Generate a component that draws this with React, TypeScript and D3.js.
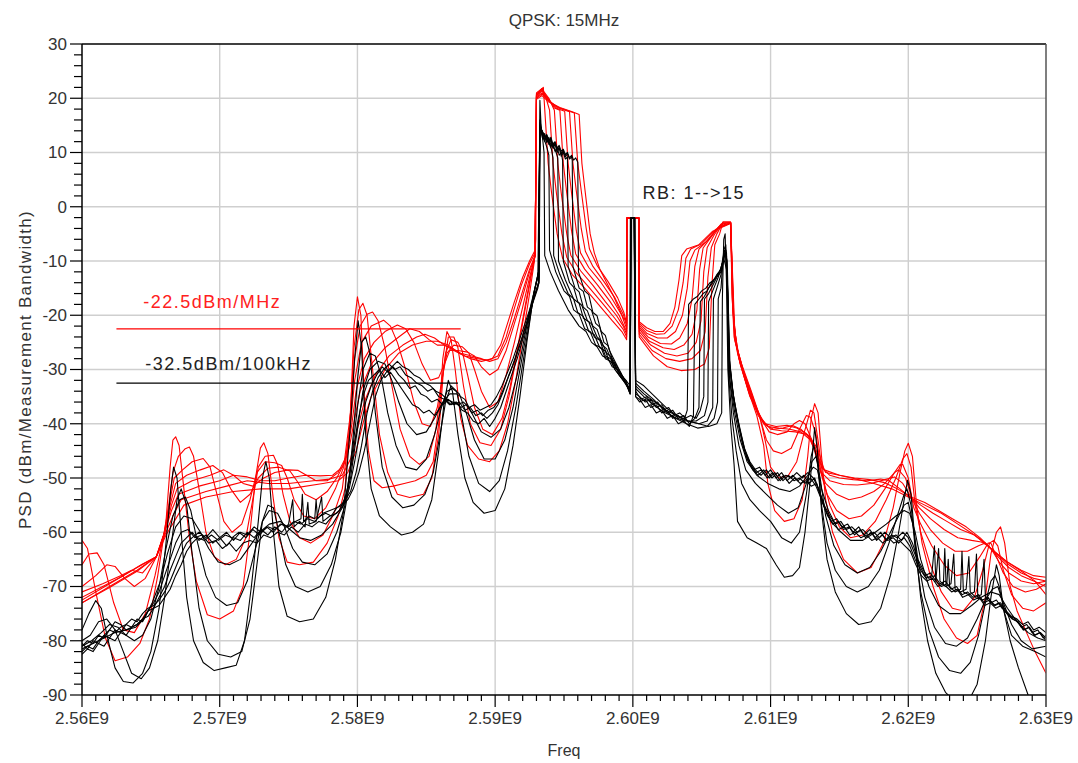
import React from "react";
import * as d3 from "d3";

type P = [number, number];

// frequencies in MHz, levels in dBm
const X_TICKS_MHZ = [2560, 2570, 2580, 2590, 2600, 2610, 2620, 2630];
const X_TICK_LABELS = ["2.56E9", "2.57E9", "2.58E9", "2.59E9", "2.60E9", "2.61E9", "2.62E9", "2.63E9"];
const Y_TICKS = [30, 20, 10, 0, -10, -20, -30, -40, -50, -60, -70, -80, -90];

const RED_0: P[] = [[2560,-61.5],[2560.4,-63],[2561,-71],[2561.7,-79.5],[2562.4,-83.7],[2563.3,-83],[2564.2,-80.5],[2564.9,-76],[2565.5,-68],[2566.1,-58],[2566.4,-48],
[2566.6,-43],[2566.8,-42.4],[2567.05,-44],[2567.4,-52],[2567.8,-61],[2568.3,-69],[2569.1,-75.2],[2570,-76],[2571,-74.5],[2571.7,-70],[2572.2,-60],[2572.6,-50],[2572.95,-44.5],
[2573.2,-43.5],[2573.5,-45.5],[2573.9,-54],[2574.3,-61],[2574.9,-65.5],[2575.8,-66],[2576.8,-65.5],[2577.8,-62],[2578.6,-57],[2579.1,-52],[2579.5,-38],[2579.75,-22],
[2580,-16.6],[2580.25,-20],[2580.5,-35],[2580.8,-45],[2581.2,-50.5],[2581.8,-51.8],[2582.6,-51.5],[2583.4,-51],[2584.2,-50.5],[2585,-49.5],[2585.5,-47],[2585.9,-40],[2586.2,-28],
[2586.5,-23],[2586.8,-24.5],[2587.1,-30],[2587.5,-39],[2588,-44],[2588.8,-46.5],[2589.6,-47],[2590.3,-45],[2590.9,-40],[2591.5,-32],[2592,-24],[2592.5,-16],[2592.85,-10],
[2592.95,-6],[2593,21],[2593.5,22],[2593.6,18],[2593.85,8],[2594.1,2.5],[2594.5,-5],[2594.9,-9.5],[2595.6,-12.5],[2596.5,-15],[2597.5,-18],[2598.5,-21],[2599.2,-23],[2599.55,-24.5],
[2599.56,-2.1],[2600.45,-2.1],[2600.46,-24],
[2601.5,-27.5],[2602.5,-29.5],[2603.5,-30.2],[2604.5,-30],[2605.2,-29],[2605.55,-26],[2605.75,-14],[2605.95,-7],[2606.3,-5],[2606.55,-2.8],[2607.1,-2.8],[2607.2,-16],[2607.35,-24],
[2607.8,-29],[2608.4,-34],[2609,-38.5],[2609.5,-44],[2609.8,-51],[2610.3,-56],[2611,-58],[2611.7,-57.5],[2612.3,-54],[2612.7,-46],[2612.95,-39],
[2613.2,-36.3],[2613.45,-38],[2613.7,-46],[2614,-54],[2614.5,-60],[2615.3,-65],[2616.3,-67.5],[2617.3,-66.5],[2618.2,-62],[2618.9,-55.5],[2619.4,-49],[2619.75,-45],
[2620,-43.6],[2620.3,-46],[2620.6,-55],[2621,-62],[2621.8,-70],[2622.6,-76],[2623.5,-79.5],[2624.3,-80.5],[2625,-79],[2625.6,-72],[2626,-64],[2626.4,-60],
[2626.7,-59],[2627,-62],[2627.4,-70],[2627.9,-74.5],[2628.5,-78],[2629.2,-82],[2630,-86]];

const RED_1: P[] = [[2560,-66],[2560.5,-64],[2561.1,-63.8],[2561.6,-66],[2562.3,-73],[2563,-78],[2563.8,-78.5],[2564.6,-75],[2565.3,-68],[2565.9,-61],[2566.3,-55],[2566.6,-49],
[2567,-46],[2567.5,-44.6],[2567.8,-44.3],[2568.1,-46],[2568.5,-52],[2569,-60],[2569.6,-64.5],[2570.4,-66],[2571.2,-65],[2571.9,-61],[2572.4,-54],[2572.8,-48],
[2573.3,-46],[2573.9,-45.8],[2574.2,-47.5],[2574.6,-53],[2575.1,-58],[2575.8,-61],[2576.6,-62],[2577.5,-60.5],[2578.3,-56.5],[2578.9,-52],[2579.4,-42],[2579.75,-26],
[2580.1,-19],[2580.4,-17.8],[2580.7,-20],[2581.1,-30],[2581.6,-42],[2582.2,-49],[2582.9,-53],[2583.8,-53.6],[2584.8,-53],[2585.4,-50],[2585.9,-42],[2586.25,-30],
[2586.6,-24],[2587,-24],[2587.3,-26],[2587.7,-33],[2588.2,-40],[2588.9,-43.5],[2589.7,-44],[2590.4,-41],[2591,-35],[2591.6,-27],[2592.1,-20],[2592.6,-13],[2592.9,-9],
[2593,20.5],[2593.4,21.8],[2593.7,20],[2593.95,17.8],[2594.2,8],[2594.45,2.5],[2594.85,-5],[2595.2,-9.3],[2595.9,-12.2],[2596.8,-14.8],[2597.8,-17.8],[2598.7,-20.6],[2599.3,-22.6],[2599.55,-24],
[2599.56,-2.1],[2600.45,-2.1],[2600.46,-23.5],
[2601.4,-26.5],[2602.4,-28],[2603.4,-28.5],[2604.3,-28],[2604.9,-26.5],[2605.25,-23],[2605.45,-13],[2605.7,-7.5],[2606.1,-5],[2606.55,-2.8],[2607.1,-2.8],[2607.22,-17],[2607.4,-24.5],
[2607.9,-29],[2608.6,-34],[2609.2,-38.5],[2609.6,-43],[2610,-48],[2610.6,-50],[2611.3,-49.5],[2611.9,-47],[2612.4,-42],[2612.9,-37.5],
[2613.15,-38],[2613.5,-44],[2613.8,-50],[2614.3,-55],[2615,-59],[2615.8,-61],[2616.7,-60.5],[2617.6,-58],[2618.4,-54],[2619.1,-50],[2619.6,-46.5],
[2619.9,-45.5],[2620.2,-48],[2620.5,-55],[2620.9,-60],[2621.6,-66],[2622.4,-71],[2623.2,-74],[2624,-74.5],[2624.8,-72],[2625.4,-67],[2625.9,-62],
[2626.2,-61.5],[2626.5,-62.5],[2626.9,-67],[2627.5,-71.5],[2628.3,-74],[2629.1,-74.5],[2630,-73]];

const RED_2: P[] = [[2560,-70],[2561,-68],[2561.8,-66],[2562.4,-66.3],[2563.1,-68.5],[2563.8,-70],[2564.6,-68.5],[2565.4,-64.5],[2566,-60],[2566.4,-54],[2566.7,-50],
[2567.3,-48.5],[2568,-47],[2568.8,-46.4],[2569.3,-48],[2569.8,-53],[2570.3,-58],[2570.9,-60],[2571.6,-58.5],[2572.2,-54],[2572.7,-49],
[2573.3,-47],[2574,-47.2],[2574.5,-47.7],[2574.9,-50],[2575.4,-54],[2576.1,-57],[2576.9,-57.5],[2577.7,-55.5],[2578.4,-52],[2579,-48],[2579.5,-38],[2579.8,-28],
[2580.2,-22],[2580.7,-19.8],[2581.1,-19.4],[2581.5,-21],[2582,-26],[2582.5,-33],[2583.1,-41],[2583.8,-46],[2584.5,-47.5],[2585.2,-46],[2585.7,-41],[2586.1,-33],[2586.4,-27],
[2586.8,-24.5],[2587.3,-25],[2587.6,-26.5],[2588,-31],[2588.5,-37],[2589.1,-41],[2589.8,-42],[2590.5,-39],[2591.1,-33],[2591.7,-25],[2592.2,-18],[2592.6,-12.5],[2592.9,-9],
[2593,20.8],[2593.4,21.7],[2593.9,20],[2594.3,17.8],[2594.55,8],[2594.8,2.5],[2595.2,-5],[2595.5,-9],[2596.2,-11.8],[2597.1,-14.5],[2598,-17.5],[2598.8,-20],[2599.3,-22],[2599.55,-23.5],
[2599.56,-2.1],[2600.45,-2.1],[2600.46,-23],
[2601.3,-25.5],[2602.3,-27],[2603.2,-27.5],[2604,-27],[2604.6,-25],[2604.95,-21],[2605.15,-12],[2605.4,-7.5],[2605.9,-5.2],[2606.5,-3],[2607.1,-2.9],[2607.25,-18],[2607.45,-25],
[2608,-30],[2608.7,-35],[2609.3,-39.5],[2609.7,-43],[2610.2,-45],[2610.8,-45.5],[2611.5,-44.5],[2612.1,-41],[2612.6,-38.5],
[2612.9,-38.8],[2613.3,-42],[2613.65,-49],[2614.1,-53],[2614.8,-56],[2615.7,-57.5],[2616.6,-57],[2617.5,-55],[2618.3,-52],[2619,-49],[2619.4,-47.5],
[2619.6,-47.5],[2620,-50],[2620.4,-55.5],[2620.9,-58.5],[2621.7,-62.5],[2622.6,-66],[2623.5,-68],[2624.4,-67.5],[2625.2,-64.5],[2625.8,-62],
[2626,-62],[2626.4,-64.5],[2626.9,-67.5],[2627.6,-70],[2628.5,-71],[2629.3,-70.5],[2630,-69.5]];

const RED_3: P[] = [[2560,-71],[2561.5,-69.5],[2562.8,-68],[2563.6,-67],[2564.4,-67.5],[2565.4,-64.5],[2566,-60],[2566.4,-55],[2566.8,-51],
[2567.6,-49.5],[2568.6,-48.5],[2569.5,-47.7],[2570.2,-49],[2570.8,-52],[2571.5,-54.5],[2572.2,-53],[2572.8,-50],
[2573.5,-48.2],[2574.3,-48],[2575.1,-48.7],[2575.6,-50.5],[2576.2,-53],[2577,-54],[2577.8,-52.5],[2578.5,-50],[2579.1,-47],[2579.5,-40],[2579.8,-32],
[2580.3,-25],[2581,-22],[2581.9,-20.9],[2582.4,-22],[2582.9,-25],[2583.5,-30],[2584.1,-36],[2584.7,-40],[2585.3,-40.5],[2585.8,-37],[2586.2,-31],[2586.5,-27],
[2587,-25.5],[2587.6,-25.8],[2588.1,-27],[2588.5,-30],[2589,-34],[2589.6,-37],[2590.2,-36],[2590.8,-31],[2591.4,-25],[2592,-18.5],[2592.5,-13],[2592.9,-9],
[2593,20.6],[2593.4,21.5],[2593.9,19.8],[2594.3,18.2],[2594.7,17.8],[2594.95,8],[2595.2,2.5],[2595.55,-4.5],[2595.85,-8.7],[2596.5,-11.5],[2597.4,-14.3],[2598.3,-17.3],[2599,-20],[2599.55,-23],
[2599.56,-2.1],[2600.45,-2.1],[2600.46,-22.5],
[2601.2,-24.8],[2602.2,-26],[2603,-26.3],[2603.7,-25.5],[2604.3,-23.5],[2604.65,-19],[2604.85,-11.5],[2605.1,-7.6],[2605.7,-5.5],[2606.4,-3.2],[2607.1,-2.9],[2607.28,-19],[2607.5,-25.5],
[2608.1,-31],[2608.8,-36],[2609.4,-39.5],[2609.9,-41.5],[2610.5,-42],[2611.2,-41.5],[2611.7,-40],[2612.1,-39.4],
[2612.5,-40],[2613,-43],[2613.5,-48],[2614,-51],[2614.8,-53],[2615.7,-54],[2616.6,-53.5],[2617.5,-52.5],[2618.3,-51],[2619,-49],
[2619.3,-48.5],[2619.8,-50],[2620.3,-54],[2620.8,-56.5],[2621.6,-59.5],[2622.5,-62],[2623.4,-63.5],[2624.3,-63.5],[2625.1,-62.5],[2625.6,-62],
[2626,-63],[2626.6,-65.5],[2627.3,-67.5],[2628.2,-69],[2629.1,-69.5],[2630,-69]];

const RED_4: P[] = [[2560,-72],[2561.5,-70],[2563,-68],[2564.3,-66],[2565.4,-64.5],[2566,-60],[2566.5,-55],[2566.9,-52],
[2568,-50.5],[2569.3,-49.5],[2570.3,-48.5],[2571,-49.5],[2571.7,-51],[2572.4,-51.5],[2573.2,-50],
[2574,-49],[2575,-48.5],[2575.7,-48.6],[2576.3,-49.5],[2577,-50.5],[2577.8,-50.5],[2578.6,-49],[2579.2,-46],[2579.6,-40],[2579.9,-34],
[2580.5,-28],[2581.2,-25],[2582,-23],[2582.9,-21.8],[2583.5,-22.5],[2584.1,-25],[2584.7,-29],[2585.3,-32],[2585.9,-31.5],[2586.4,-28.5],[2586.7,-26.5],
[2587.3,-26.5],[2588,-26.8],[2588.5,-27.5],[2589,-29.5],[2589.6,-31],[2590.2,-30],[2590.8,-26.5],[2591.4,-21.5],[2592,-16.5],[2592.5,-12],[2592.9,-9],
[2593,20.4],[2593.4,21.3],[2593.9,19.7],[2594.4,18.2],[2595.05,17.6],[2595.3,8],[2595.55,2.5],[2595.9,-4.5],[2596.2,-8.5],[2596.8,-11.2],[2597.7,-14],[2598.5,-17],[2599.2,-20],[2599.55,-22.5],
[2599.56,-2.1],[2600.45,-2.1],[2600.46,-22.2],
[2601.1,-24],[2602,-25.2],[2602.8,-25.3],[2603.4,-24.2],[2603.95,-21.5],[2604.3,-17],[2604.5,-11],[2604.8,-7.8],[2605.5,-6],[2606.3,-3.5],[2607.1,-3],[2607.3,-20],[2607.55,-26],
[2608.2,-32],[2608.9,-37],[2609.5,-40],[2610.2,-41],[2610.9,-40.8],[2611.6,-40.3],
[2612.2,-41],[2612.8,-42.5],[2613.3,-45.5],[2613.7,-49],[2614.3,-50.5],[2615.3,-51.2],[2616.3,-51.3],[2617.3,-51],[2618.3,-50.3],
[2619,-49.8],[2619.6,-51],[2620.2,-53.5],[2620.8,-55.5],[2621.6,-57.5],[2622.6,-59.5],[2623.6,-61],[2624.6,-61.5],[2625.3,-61.8],
[2625.8,-62.5],[2626.5,-64.5],[2627.3,-66.5],[2628.2,-68],[2629.1,-69],[2630,-70]];

const RED_5: P[] = [[2560,-72.5],[2562,-69.5],[2564,-66.5],[2565.4,-64.5],[2566,-60],[2566.5,-56],[2567,-53],
[2568.5,-51.5],[2570,-50.5],[2571,-49.5],[2572,-49.8],[2573,-50.5],[2574,-50.5],
[2575,-50],[2576.2,-49.5],[2577.3,-49.6],[2578.2,-49.5],[2578.9,-48],[2579.4,-44.5],[2579.8,-39],[2580.2,-34],
[2581,-29],[2582,-26],[2583,-24],[2583.8,-22.5],[2584.5,-23],[2585.2,-24.5],[2585.8,-25.5],[2586.3,-25.5],[2586.8,-26],
[2587.5,-27],[2588.3,-27.5],[2589,-28],[2589.6,-28.5],[2590.2,-28],[2590.8,-25],[2591.4,-20.5],[2592,-15.5],[2592.5,-11.5],[2592.9,-9],
[2593,20.2],[2593.4,21],[2593.9,19.6],[2594.5,18.3],[2595.4,17.5],[2595.65,8],[2595.9,2.8],[2596.25,-4],[2596.55,-8.2],[2597.1,-11],[2597.9,-13.8],[2598.7,-16.8],[2599.3,-19.8],[2599.55,-22],
[2599.56,-2.1],[2600.45,-2.1],[2600.46,-21.8],
[2601,-23.3],[2601.8,-24.2],[2602.5,-24.2],[2603.1,-23],[2603.6,-20],[2603.95,-15],[2604.15,-10],[2604.5,-8],[2605.3,-6.5],[2606.2,-3.8],[2607.1,-3],[2607.32,-21],[2607.6,-27],
[2608.3,-33],[2609,-37.5],[2609.6,-40],[2610.4,-40.5],[2611.2,-40.3],
[2611.9,-40.8],[2612.6,-41.8],[2613.2,-44],[2613.7,-48],[2614.3,-49.5],[2615,-50],[2616,-50.3],[2617,-50.5],[2618,-50.2],
[2618.6,-50.5],[2619.4,-52],[2620.1,-53.5],[2620.9,-55],[2621.8,-56.5],[2622.8,-58],[2623.8,-59.5],[2624.8,-60.5],
[2625.6,-62],[2626.4,-64],[2627.3,-66],[2628.2,-67.5],[2629.1,-68.5],[2630,-69]];

const RED_6: P[] = [[2560,-73],[2562,-70],[2564,-67],[2565.4,-64.5],[2566.1,-60],[2566.6,-57],[2567.2,-54],
[2569,-52.5],[2570.5,-51.5],[2572,-50.5],[2573.5,-51],[2575,-51],
[2576.8,-50.5],[2578,-50.2],[2578.9,-49.5],[2579.5,-46.5],[2580,-41],[2580.5,-36],
[2581.3,-31],[2582.3,-27.5],[2583.3,-25.5],[2584.3,-24],[2584.9,-23.5],[2585.6,-24.2],[2586.3,-25.5],[2587,-26.5],
[2587.8,-27.5],[2588.7,-28],[2589.5,-28.3],[2590.2,-27.5],[2590.8,-24],[2591.3,-19.5],[2591.9,-14.5],[2592.5,-10.5],[2592.9,-8.5],
[2593,20],[2593.4,20.8],[2593.9,19.5],[2594.6,18.3],[2595.75,17.3],[2596,8],[2596.25,3],[2596.6,-3.8],[2596.85,-7.8],[2597.4,-10.8],[2598.2,-13.8],[2598.9,-16.8],[2599.35,-19.5],[2599.55,-21.5],
[2599.56,-2.1],[2600.45,-2.1],[2600.46,-21.5],
[2601,-22.8],[2601.7,-23.5],[2602.3,-23.4],[2602.85,-22],[2603.3,-19],[2603.65,-14],[2603.85,-9.5],[2604.2,-7.8],[2605,-6.8],[2606,-4.2],[2607.1,-3],[2607.35,-22],[2607.7,-28],
[2608.4,-34],[2609.1,-38.5],[2609.8,-40.5],[2610.6,-40.8],
[2611.4,-41],[2612.2,-41.5],[2612.9,-43],[2613.5,-46.5],[2614,-49],[2615,-49.5],[2616.1,-50],[2617.2,-50.3],
[2618.2,-50.8],[2619.2,-52],[2620.2,-53.5],[2621.2,-54.5],[2622.2,-56],[2623.2,-57.5],[2624.2,-59],
[2625.2,-61],[2626.2,-63.5],[2627.2,-65.5],[2628.2,-67],[2629.1,-68],[2630,-68.3]];

const RED_7: P[] = [[2560,-73],[2562,-70.2],[2564,-67.2],[2565.4,-64.5],[2566.1,-60.5],[2566.7,-58],[2567.4,-55],
[2569,-53.5],[2571,-52.5],[2573,-52],[2575,-52],[2577.5,-51],
[2578.6,-50.5],[2579.3,-49],[2579.9,-45],[2580.5,-39],[2581,-35],
[2582,-30],[2583,-27],[2584,-25.5],[2585,-24.8],[2585.8,-24.8],[2586.6,-25.5],[2587.4,-27],
[2588.2,-28],[2589,-28.5],[2589.8,-28],[2590.4,-25.5],[2590.9,-21.5],[2591.4,-17.5],[2592,-13],[2592.5,-10],[2592.9,-8],
[2593,19.8],[2593.4,20.5],[2593.9,19.3],[2594.7,18.3],[2595.6,17.5],[2596.1,17],[2596.3,8],[2596.5,3.6],[2596.9,-5],[2597.2,-8.5],[2597.6,-11.5],[2598.6,-16.5],[2599.3,-20.5],[2599.55,-21],
[2599.56,-2.1],[2600.45,-2.1],[2600.46,-21.2],
[2601,-22.3],[2601.6,-23],[2602.2,-23],[2602.7,-21.5],[2603.05,-18.5],[2603.35,-13.5],[2603.55,-9],[2603.9,-7.8],[2604.8,-7],[2605.8,-4.5],[2607.1,-3.1],[2607.4,-23],[2607.8,-29],
[2608.5,-35],[2609.3,-39],[2610,-41],[2610.8,-41.3],
[2611.8,-41.5],[2612.7,-42],[2613.4,-44.5],[2613.9,-48.5],[2615,-49.5],[2616.2,-50.2],[2617.5,-51],
[2618.8,-52],[2620,-53.5],[2621.2,-55],[2622.4,-56.5],[2623.6,-58.5],
[2624.8,-60.5],[2626,-63],[2627.2,-65.5],[2628.4,-67.5],[2629.2,-69],[2630,-71.5]];

const BLK_0: P[] = [[2560,-78],[2560.5,-75],[2561,-72.6],[2561.4,-74],[2561.9,-80],[2562.4,-85],[2563,-87.5],[2563.7,-87.8],[2564.4,-86],[2565,-82],[2565.6,-74],[2566.1,-62],[2566.45,-52],
[2566.65,-48],[2566.9,-50],[2567.2,-60],[2567.6,-72],[2568.1,-80],[2568.8,-84],[2569.6,-85.5],[2570.4,-85],[2571.2,-84.5],[2571.8,-80],[2572.3,-70],[2572.8,-58],[2573.1,-50],
[2573.35,-47],[2573.6,-50],[2573.9,-60],[2574.3,-70],[2574.9,-75.5],[2575.8,-76.5],[2576.8,-76],[2577.7,-72],[2578.4,-65],[2579,-56],[2579.5,-40],[2579.8,-28],
[2580.05,-21],[2580.3,-26],[2580.6,-42],[2581,-52],[2581.6,-57],[2582.4,-59],[2583.2,-60.5],[2584,-60],[2584.8,-58.5],[2585.4,-54],[2585.9,-45],[2586.3,-36],
[2586.6,-32],[2586.9,-34],[2587.3,-42],[2587.8,-50],[2588.4,-54.5],[2589.2,-56.5],[2590,-56],[2590.7,-52],[2591.3,-44],[2591.8,-35],[2592.3,-25],[2592.8,-16],[2593.15,-12],
[2593.25,19.6],[2593.35,14],[2593.45,12.5],[2593.55,10],[2593.6,-9],[2594,-12],[2594.6,-15.5],[2595.3,-19],[2596.1,-22],[2596.6,-23],[2597,-25],[2597.4,-25.8],[2597.8,-27.5],[2598.2,-28],[2598.5,-29.5],[2598.9,-30],[2599.2,-31.5],[2599.5,-32],[2599.8,-33],
[2599.82,-2.1],[2600.08,-2.1],[2600.2,-32],
[2600.8,-33],[2601.6,-35],[2602.4,-37],[2603.2,-38.5],[2604,-39.5],[2604.8,-40],[2605.5,-40.5],[2606.1,-40],[2606.45,-38],[2606.5,-17],[2606.6,-6],[2606.7,-5],[2606.8,-14],[2606.9,-30],
[2607.1,-40],[2607.35,-47.5],[2607.6,-58],[2608.3,-61],[2609,-62],[2609.7,-63],[2610.4,-66],[2611,-68.3],[2611.6,-68],[2612.1,-66.5],[2612.5,-60],[2612.9,-50],
[2613.2,-40.7],[2613.4,-45],[2613.7,-56],[2614.1,-65],[2614.7,-71],[2615.5,-75],[2616.4,-77],[2617.3,-76.5],[2618,-74],[2618.7,-68],[2619.3,-60],[2619.7,-54],
[2619.95,-50.4],[2620.2,-53],[2620.5,-62],[2620.9,-72],[2621.4,-80],[2622,-86],[2622.7,-89.5],[2623.3,-91],[2624.2,-92],[2625,-88],[2625.6,-80],[2626,-72],[2626.4,-66],
[2626.6,-68],[2626.9,-74],[2627.4,-80],[2628,-85],[2628.7,-90],[2629.2,-94],[2630,-96]];

const BLK_1: P[] = [[2560,-80],[2560.6,-79],[2561.2,-76.5],[2561.8,-76],[2562.4,-78],[2563,-82],[2563.6,-86],[2564.3,-87],[2564.9,-85],[2565.5,-80],[2566,-72],[2566.5,-62],[2566.9,-54],
[2567.2,-52],[2567.6,-55],[2568,-64],[2568.5,-74],[2569.1,-80],[2569.9,-82.5],[2570.8,-83],[2571.6,-82],[2572.2,-76],[2572.7,-66],[2573.1,-58],
[2573.5,-55],[2573.9,-55.5],[2574.3,-60],[2574.8,-66],[2575.5,-70],[2576.4,-71],[2577.3,-70],[2578.1,-66],[2578.8,-60],[2579.3,-53],[2579.7,-42],[2580,-32],
[2580.3,-25],[2580.6,-24],[2580.9,-27],[2581.3,-38],[2581.8,-48],[2582.5,-53.5],[2583.3,-55.5],[2584.1,-55],[2584.9,-53],[2585.5,-49],[2586,-42],[2586.4,-36],
[2586.8,-33],[2587.2,-34],[2587.6,-39],[2588.1,-46],[2588.8,-51],[2589.6,-52.5],[2590.3,-50.5],[2590.9,-45],[2591.5,-37],[2592,-29],[2592.5,-21],[2592.9,-15],[2593.15,-12],
[2593.25,16],[2593.45,13],[2593.6,12.2],[2593.75,11],[2593.9,9.5],[2593.95,-8],[2594.4,-12],[2595,-15.5],[2595.4,-16.5],[2595.7,-19],[2596.1,-19.8],[2596.5,-22.5],[2596.9,-23],[2597.3,-25.5],[2597.7,-26],[2598,-28],[2598.4,-28.5],[2598.7,-30],[2599.3,-32],[2599.8,-33.5],
[2599.84,-2.1],[2600.1,-2.1],[2600.2,-32.5],
[2600.8,-34],[2601.5,-35.5],[2602.3,-37.5],[2603.1,-39],[2603.9,-40],[2604.7,-40.8],[2605.4,-40.5],[2605.9,-39],[2606.15,-36],[2606.2,-17],[2606.4,-15],[2606.6,-8],[2606.75,-7],[2606.85,-16],[2606.95,-31],
[2607.2,-39],[2607.5,-45],[2607.9,-51],[2608.5,-54],[2609.2,-56],[2610,-58],[2610.8,-61],[2611.5,-62],[2612.1,-60],[2612.6,-53],[2612.95,-46],
[2613.15,-44],[2613.4,-47],[2613.7,-55],[2614.1,-62],[2614.7,-67],[2615.5,-70],[2616.3,-71],[2617.1,-70],[2617.9,-67],[2618.6,-62],[2619.2,-57],[2619.7,-53],
[2619.9,-52],[2620.2,-55],[2620.5,-63],[2620.9,-71],[2621.5,-78],[2622.2,-83],[2623,-85.5],[2623.8,-86],[2624.5,-84],[2625.1,-79],[2625.6,-73],[2626,-69],
[2626.3,-68],[2626.6,-70],[2627,-75],[2627.5,-79],[2628.3,-81],[2629.2,-82],[2630,-83]];

const BLK_2: P[] = [[2560,-81],[2560.7,-80],[2561.4,-78.5],[2562,-77],[2562.6,-77.5],[2563.2,-79],[2563.8,-80],[2564.4,-79],[2565,-76],[2565.6,-70],[2566.1,-63],[2566.6,-57],[2567.1,-54],
[2567.5,-53.5],[2567.9,-56],[2568.4,-62],[2569,-68],[2569.7,-72],[2570.5,-73.5],[2571.3,-73],[2572,-69],[2572.6,-63],[2573.1,-58],
[2573.6,-56],[2574.2,-56.5],[2574.7,-59],[2575.3,-63],[2576,-65.5],[2576.9,-66],[2577.8,-64],[2578.5,-60],[2579.1,-55],[2579.6,-46],[2580,-37],
[2580.4,-30],[2580.9,-27],[2581.3,-27.5],[2581.7,-31],[2582.2,-38],[2582.8,-44],[2583.5,-48],[2584.3,-48.5],[2585,-46.5],[2585.6,-42],[2586.1,-37],[2586.5,-34],
[2586.9,-33.5],[2587.4,-34.5],[2587.9,-38],[2588.5,-43],[2589.2,-46.5],[2590,-46.5],[2590.7,-43],[2591.3,-37],[2591.8,-30],[2592.3,-23],[2592.8,-16],[2593.15,-12],
[2593.25,15],[2593.5,13.3],[2593.7,12.5],[2593.9,11.8],[2594.1,10.5],[2594.2,9],[2594.25,-9],[2594.7,-12.5],[2595.3,-16],[2595.7,-17],[2596,-19.5],[2596.4,-20.2],[2596.8,-23],[2597.2,-23.6],[2597.6,-26],[2598,-26.6],[2598.3,-28.5],[2598.7,-29],[2599,-31],[2599.8,-33.5],
[2599.86,-2.1],[2600.12,-2.1],[2600.2,-33],
[2600.8,-34.5],[2601.6,-36],[2602.4,-37.5],[2603.2,-38.5],[2604,-39.5],[2604.8,-40],[2605.4,-39.5],[2605.8,-37],[2605.85,-17],[2606.1,-15],[2606.4,-12.5],[2606.65,-8.5],[2606.8,-9],[2606.9,-20],[2607,-31],
[2607.3,-38],[2607.7,-44],[2608.2,-48.5],[2608.9,-51],[2609.7,-53],[2610.5,-55],[2611.3,-56.5],[2612,-55.5],[2612.6,-51],[2613,-47],
[2613.3,-46],[2613.6,-50],[2614,-57],[2614.6,-62.5],[2615.4,-66],[2616.3,-67.5],[2617.2,-66.5],[2618,-63.5],[2618.7,-60],[2619.3,-57],[2619.7,-55],
[2620,-54.5],[2620.3,-58],[2620.7,-65],[2621.2,-72],[2621.9,-77.5],[2622.7,-80.5],[2623.5,-81],[2624.3,-79.5],[2625,-76],[2625.6,-72.5],[2626.1,-70.5],
[2626.5,-70],[2626.9,-73],[2627.5,-77],[2628.2,-80],[2629,-81.5],[2630,-81]];

const BLK_3: P[] = [[2560,-81.5],[2560.8,-80.5],[2561.6,-79.5],[2562.4,-78.5],[2563.2,-78],[2563.9,-77.5],[2564.5,-76],[2565.1,-73],[2565.7,-69],[2566.2,-64],[2566.8,-59],[2567.4,-57],
[2568,-57.5],[2568.6,-60],[2569.2,-63],[2569.9,-65.5],[2570.7,-66],[2571.5,-65],[2572.2,-62.5],[2572.9,-60],
[2573.6,-58.5],[2574.4,-58],[2575.1,-59.5],[2575.8,-61],[2576.6,-61.5],[2577.4,-60.5],[2578.2,-58.5],[2578.9,-55.5],[2579.5,-50],[2580,-41],[2580.4,-34],
[2580.9,-30],[2581.5,-28.5],[2582,-29],[2582.5,-32],[2583,-36],[2583.6,-40],[2584.3,-42],[2585,-41.5],[2585.6,-39],[2586.2,-36],[2586.7,-34.5],
[2587.2,-34.5],[2587.8,-35.5],[2588.4,-38.5],[2589,-41.5],[2589.7,-42.5],[2590.4,-41],[2591,-37],[2591.6,-31],[2592.1,-24.5],[2592.6,-18],[2593.1,-13],
[2593.25,14.8],[2593.5,13.5],[2593.8,12.3],[2594.1,11.5],[2594.4,10.2],[2594.55,9],[2594.6,-10],[2595.1,-13.5],[2595.7,-17],[2596.1,-17.8],[2596.4,-20.5],[2596.8,-21.2],[2597.2,-24],[2597.6,-24.6],[2598,-27.5],[2598.4,-28],[2598.7,-30],[2599.3,-32],[2599.8,-34],
[2599.88,-2.1],[2600.14,-2.1],[2600.2,-33.5],
[2600.8,-35],[2601.5,-36.5],[2602.2,-37.8],[2603,-38.8],[2603.8,-39.5],[2604.6,-39.5],[2605.2,-38.5],[2605.45,-36],[2605.5,-17.5],[2605.8,-15.5],[2606.2,-13],[2606.6,-9.5],[2606.85,-12],[2606.95,-24],[2607.05,-32],
[2607.4,-38],[2607.8,-43],[2608.3,-47],[2609,-49.5],[2609.8,-51],[2610.6,-52],[2611.4,-52.5],[2612.1,-51.5],[2612.7,-49.5],[2613.1,-48],
[2613.4,-48.5],[2613.7,-52],[2614.2,-56],[2614.9,-59.5],[2615.8,-61.5],[2616.7,-61.5],[2617.6,-60],[2618.4,-58.5],[2619.1,-57],[2619.7,-56],
[2620.1,-56.5],[2620.5,-60],[2620.9,-65],[2621.5,-70],[2622.2,-73.5],[2623,-75],[2623.8,-75],[2624.6,-73.5],[2625.3,-72],[2626,-71],
[2626.6,-71.5],[2627.2,-74],[2627.9,-76.5],[2628.7,-78.5],[2629.4,-79.5],[2630,-80]];

const BLK_4: P[] = [[2560,-82],[2560.4,-81],[2560.8,-81.5],[2561.2,-80],[2561.6,-79],[2562,-78],[2562.4,-76.5],[2562.8,-77],[2563.2,-78],[2563.6,-77.5],[2564,-77],[2564.4,-76],[2564.8,-74.5],[2565.2,-73],[2565.6,-71],[2566,-68],[2566.4,-65],[2566.8,-62],[2567.2,-60],
[2567.7,-59.5],[2568.2,-61],[2568.7,-60.5],[2569.2,-62],[2569.7,-61.5],[2570.2,-63],[2570.7,-62],[2571.2,-63.5],[2571.7,-62],[2572.2,-61.5],[2572.7,-62],[2573.2,-60.5],
[2573.7,-61],[2574.2,-60],[2574.7,-60.5],[2575.2,-59],[2575.7,-60],[2576.2,-58.5],[2576.7,-59],[2577.2,-58],[2577.7,-58.5],[2578.2,-57],[2578.7,-56],[2579.2,-53],[2579.6,-47],[2580,-40],[2580.4,-35],
[2580.8,-32],[2581.2,-31],[2581.6,-30],[2582,-31.5],[2582.4,-30.5],[2582.8,-32],[2583.2,-33.5],[2583.6,-35],[2584,-36.5],[2584.4,-37],[2584.8,-38],[2585.2,-37.5],[2585.6,-38.5],[2586,-37],[2586.4,-35.5],[2586.8,-36.5],
[2587.2,-36],[2587.6,-37.5],[2588,-38],[2588.4,-39.5],[2588.8,-40],[2589.2,-39],[2589.6,-40.5],[2590,-39],[2590.4,-37],[2590.8,-34],[2591.2,-31],[2591.6,-28],[2592,-24.5],[2592.4,-21],[2592.8,-17],[2593.15,-14],
[2593.25,15.5],[2593.45,12.5],[2593.6,13.5],[2593.75,11.8],[2593.9,12.8],[2594.05,11],[2594.2,11.8],[2594.35,10.2],[2594.5,11],[2594.65,9.5],[2594.8,10],[2594.9,8.5],[2594.95,-10],[2595.4,-14],[2595.7,-14.8],[2596,-17.5],[2596.3,-18.2],[2596.7,-21],[2597,-21.6],[2597.4,-24],[2597.7,-24.7],[2598.1,-27],[2598.4,-27.6],[2598.7,-29.5],[2599.3,-31.5],[2599.8,-34],
[2599.83,-2.1],[2600.09,-2.1],[2600.2,-34],
[2600.6,-35.5],[2601,-35],[2601.4,-36.5],[2601.8,-36],[2602.2,-37.5],[2602.6,-37],[2603,-38.5],[2603.4,-38],[2603.8,-39],[2604.2,-38.5],[2604.6,-39],[2604.9,-37.5],[2605.15,-35],[2605.2,-17],[2605.5,-16],[2605.8,-14.5],[2606.1,-13],[2606.4,-12],[2606.6,-9],[2606.75,-8],[2606.9,-16],[2607,-28],
[2607.2,-33],[2607.5,-38],[2607.9,-43],[2608.3,-46.5],[2608.7,-48.5],[2609.1,-49.5],[2609.5,-48.5],[2609.9,-50],[2610.3,-49],[2610.7,-50.5],[2611.1,-49.5],[2611.5,-50],[2611.9,-49],[2612.3,-50],[2612.7,-49],[2613.1,-50],
[2613.5,-52],[2613.9,-55],[2614.3,-57],[2614.7,-58.5],[2615.1,-58],[2615.5,-59.5],[2615.9,-59],[2616.3,-60],[2616.7,-59.5],[2617.1,-60.5],[2617.5,-60],[2617.9,-61],[2618.3,-60],[2618.7,-61],[2619.1,-60.5],[2619.5,-61.5],
[2619.9,-60],[2620.3,-62],[2620.7,-65],[2621.1,-67],[2621.5,-68.5],[2621.9,-68],[2622.3,-69.5],[2622.7,-69],[2623.1,-70.5],[2623.5,-70],[2623.9,-71.5],[2624.3,-71],[2624.7,-72],[2625.1,-71.5],[2625.5,-73],[2625.9,-72.5],[2626.3,-73.5],[2626.7,-73],
[2627.1,-74.5],[2627.5,-75.5],[2627.9,-76],[2628.3,-77],[2628.7,-76.5],[2629.1,-78],[2629.5,-77.5],[2630,-78.5]];

const BLK_5: P[] = [[2560,-80.5],[2560.4,-81.5],[2560.8,-80],[2561.2,-80.5],[2561.6,-79],[2562,-79.5],[2562.4,-78],[2562.8,-78.5],[2563.2,-77],[2563.6,-77.5],[2564,-76],[2564.4,-76.5],[2564.8,-74.5],[2565.2,-74],[2565.6,-72],[2566,-70],[2566.4,-67],[2566.8,-64.5],[2567.2,-62],[2567.6,-61],
[2568,-60],[2568.5,-61.5],[2569,-60.5],[2569.5,-62],[2570,-61],[2570.5,-62.5],[2571,-61],[2571.5,-61.5],[2572,-60],[2572.5,-61],[2573,-59.5],[2573.5,-60.5],
[2574,-59],[2574.5,-60],[2575,-58.5],[2575.3,-54],[2575.4,-59],[2575.8,-58],[2576.2,-59],[2576.4,-54.5],[2576.5,-58.5],[2577,-58],[2577.4,-53.5],[2577.5,-58],[2578,-57],[2578.5,-56.5],[2579,-55],[2579.4,-52],[2579.8,-47],[2580.2,-41],[2580.6,-36],
[2581,-33],[2581.4,-31],[2581.8,-29.5],[2582.2,-30.5],[2582.6,-29.5],[2583,-31],[2583.4,-32],[2583.8,-33.5],[2584.2,-33],[2584.6,-34.5],[2585,-35],[2585.4,-36],[2585.8,-35.5],[2586.2,-36.5],[2586.6,-35.5],
[2587,-36.5],[2587.4,-36],[2587.8,-37.5],[2588.2,-37],[2588.6,-38.5],[2589,-38],[2589.4,-39],[2589.8,-38],[2590.2,-36.5],[2590.6,-34],[2591,-31],[2591.4,-28.5],[2591.8,-25.5],[2592.2,-22],[2592.6,-18.5],[2593,-15.5],[2593.15,-14],
[2593.25,14.6],[2593.45,13],[2593.6,12],[2593.75,13.2],[2593.9,11.5],[2594.05,12.3],[2594.2,10.8],[2594.35,11.6],[2594.5,10],[2594.65,10.8],[2594.8,9.3],[2594.95,10],[2595.1,8.8],[2595.25,9.2],[2595.3,-11],[2595.8,-15],[2596.1,-15.7],[2596.4,-18.5],[2596.7,-19.2],[2597.1,-22],[2597.4,-22.6],[2597.8,-25.5],[2598.1,-26.2],[2598.4,-28],[2599,-30.5],[2599.5,-32],[2599.8,-34.5],
[2599.85,-2.1],[2600.11,-2.1],[2600.2,-34.5],
[2600.5,-35],[2600.9,-36],[2601.3,-35.5],[2601.7,-37],[2602.1,-36.5],[2602.5,-38],[2602.9,-37.5],[2603.3,-39],[2603.7,-38.5],[2604.1,-40],[2604.5,-39],[2604.8,-37],[2604.9,-17.5],[2605.2,-16.5],[2605.5,-15],[2605.8,-14],[2606.1,-12.5],[2606.4,-11.5],[2606.65,-8],[2606.8,-8.5],[2606.9,-18],[2607,-29],
[2607.25,-34],[2607.6,-39],[2608,-44],[2608.4,-47],[2608.8,-48.5],[2609.2,-48],[2609.6,-49.5],[2610,-48.5],[2610.4,-50],[2610.8,-49],[2611.2,-50.5],[2611.6,-49.5],[2612,-50.5],[2612.4,-49.5],[2612.8,-51],[2613.2,-50],
[2613.6,-53],[2614,-56],[2614.4,-58],[2614.8,-57.5],[2615.2,-59],[2615.6,-58.5],[2616,-60],[2616.4,-59],[2616.8,-60.5],[2617.2,-59.5],[2617.6,-61],[2618,-60],[2618.4,-61.5],[2618.8,-60.5],[2619.2,-61],[2619.6,-60],
[2620,-61],[2620.4,-63.5],[2620.8,-66],[2621.2,-68],[2621.6,-67.5],[2622,-69],[2622.2,-63],[2622.3,-69],[2622.7,-70],[2623.1,-69.5],[2623.3,-64],[2623.4,-70.5],[2623.8,-71],[2624.2,-70.5],[2624.4,-64.5],[2624.5,-71],[2624.9,-72],[2625.3,-71.5],[2625.5,-65],[2625.6,-72],[2626,-73],[2626.4,-72.5],[2626.8,-74],
[2627.2,-75],[2627.6,-76],[2628,-76.5],[2628.4,-78],[2628.8,-77.5],[2629.2,-79],[2629.6,-78.5],[2630,-79.5]];

const BLK_6: P[] = [[2560,-81],[2560.4,-80],[2560.8,-80.5],[2561.2,-79],[2561.6,-79.5],[2562,-78],[2562.4,-78.5],[2562.8,-77.5],[2563.2,-77],[2563.6,-76],[2564,-76.5],[2564.4,-75],[2564.8,-74],[2565.2,-73.5],[2565.6,-72.5],[2566,-71],[2566.4,-69],[2566.8,-66.5],[2567.2,-64],[2567.6,-62],[2568,-61],
[2568.5,-60],[2569,-61],[2569.5,-59.5],[2570,-61],[2570.5,-60],[2571,-61.5],[2571.5,-60],[2572,-60.5],[2572.5,-59],[2573,-60],[2573.5,-59],[2574,-59.5],
[2574.5,-58.5],[2575,-59],[2575.5,-58],[2575.9,-57.5],[2576,-53],[2576.1,-58],[2576.5,-57],[2576.9,-57.5],[2577,-54],[2577.1,-57.5],[2577.5,-56.5],[2578,-56],[2578.5,-55.5],[2579,-54.5],[2579.5,-52.5],[2579.9,-49],[2580.3,-44],[2580.7,-38],[2581.1,-34],
[2581.5,-31.5],[2581.9,-30],[2582.3,-29],[2582.7,-30],[2583.1,-29.5],[2583.5,-31],[2583.9,-31.5],[2584.3,-32.5],[2584.7,-33],[2585.1,-34],[2585.5,-33.5],[2585.9,-35],[2586.3,-35.5],[2586.7,-36.5],
[2587.1,-36],[2587.5,-37],[2587.9,-36.5],[2588.3,-38],[2588.7,-37.5],[2589.1,-38.5],[2589.5,-37.5],[2589.9,-37],[2590.3,-35.5],[2590.7,-33],[2591.1,-30.5],[2591.5,-27.5],[2591.9,-24.5],[2592.3,-21.5],[2592.7,-18],[2593.1,-15],[2593.2,-13],
[2593.25,15],[2593.45,13.5],[2593.6,12.5],[2593.75,13],[2593.9,12],[2594.05,12.5],[2594.2,11],[2594.35,11.8],[2594.5,10.5],[2594.65,11],[2594.8,9.8],[2594.95,10.3],[2595.1,9.2],[2595.25,9.8],[2595.4,8.8],[2595.55,9.2],[2595.6,8.5],[2595.65,-11],[2596.1,-15],[2596.4,-15.6],[2596.7,-18.5],[2597,-19.1],[2597.3,-21.5],[2597.6,-22.2],[2597.9,-25],[2598.2,-25.6],[2598.5,-28],[2599.1,-30.5],[2599.5,-32.5],[2599.8,-34.5],
[2599.87,-2.1],[2600.13,-2.1],[2600.2,-35],
[2600.5,-35.5],[2600.9,-37],[2601.3,-36.5],[2601.7,-38],[2602.1,-37.5],[2602.5,-39],[2602.9,-38.5],[2603.3,-40],[2603.7,-39.5],[2604.1,-40.5],[2604.4,-38.5],[2604.5,-18],[2604.8,-17],[2605.1,-16],[2605.4,-15.5],[2605.7,-14],[2606,-13],[2606.3,-12],[2606.6,-9.5],[2606.75,-8],[2606.9,-17],[2607,-28],
[2607.3,-35],[2607.7,-40],[2608.1,-44.5],[2608.5,-47],[2608.9,-48.5],[2609.3,-49.5],[2609.7,-48.5],[2610.1,-50],[2610.5,-49],[2610.9,-50.5],[2611.3,-49.5],[2611.7,-50.5],[2612.1,-50],[2612.5,-51],[2612.9,-50],[2613.3,-51.5],
[2613.7,-54],[2614.1,-56.5],[2614.5,-58.5],[2614.9,-58],[2615.3,-59.5],[2615.7,-59],[2616.1,-60.5],[2616.5,-59.5],[2616.9,-61],[2617.3,-60],[2617.7,-61.5],[2618.1,-60.5],[2618.5,-61.5],[2618.9,-61],[2619.3,-62],[2619.7,-61],
[2620.1,-62.5],[2620.5,-65],[2620.9,-67],[2621.3,-68.5],[2621.7,-68],[2621.9,-62.5],[2622,-69],[2622.4,-70],[2622.8,-69.5],[2622.9,-65],[2623,-70],[2623.4,-71],[2623.8,-70.5],[2623.9,-63.5],[2624,-71],[2624.4,-71.5],[2624.8,-71],[2624.95,-64],[2625.05,-72],[2625.4,-72.5],[2625.8,-72],[2626.2,-73.5],[2626.6,-73],
[2627,-74.5],[2627.4,-75.5],[2627.8,-76],[2628.2,-77.5],[2628.6,-77],[2629,-78.5],[2629.4,-78],[2629.8,-79.5],[2630,-79]];

const BLK_7: P[] = [[2560,-82.5],[2560.4,-81.5],[2560.8,-82],[2561.2,-80.5],[2561.6,-81],[2562,-79.5],[2562.4,-80],[2562.8,-78.5],[2563.2,-79],[2563.6,-77.5],[2564,-77],[2564.4,-76],[2564.8,-75.5],[2565.2,-74],[2565.6,-73.5],[2566,-72],[2566.4,-70.5],[2566.8,-68],[2567.2,-66],[2567.6,-63.5],[2568,-62],[2568.4,-61],
[2568.9,-61.5],[2569.4,-60.5],[2569.9,-61.5],[2570.4,-60.5],[2570.9,-61],[2571.4,-60],[2571.9,-61],[2572.4,-59.5],[2572.9,-60.5],[2573.4,-59],[2573.9,-60],[2574.4,-58.5],
[2574.9,-59],[2575.4,-58],[2575.9,-58.5],[2576.4,-57.5],[2576.9,-58],[2577.3,-57],[2577.7,-56.5],[2578.1,-57],[2578.5,-55.5],[2578.9,-55],[2579.3,-54],[2579.7,-52],[2580.1,-49],[2580.5,-45],[2580.9,-40],[2581.3,-35],[2581.7,-32],
[2582.1,-30.5],[2582.5,-29.5],[2582.9,-28.5],[2583.3,-29.5],[2583.7,-30],[2584.1,-31],[2584.5,-31.5],[2584.9,-32.5],[2585.3,-33],[2585.7,-34],[2586.1,-34.5],[2586.5,-35.5],[2586.9,-36],
[2587.3,-36.5],[2587.7,-36],[2588.1,-37],[2588.5,-36.5],[2588.9,-37.5],[2589.3,-37],[2589.7,-36.5],[2590.1,-35],[2590.5,-33],[2590.9,-30.5],[2591.3,-28],[2591.7,-25],[2592.1,-22],[2592.5,-19],[2592.9,-16],[2593.2,-14],
[2593.25,14.8],[2593.45,13.8],[2593.6,12.8],[2593.75,13.3],[2593.9,12.2],[2594.05,12.8],[2594.2,11.5],[2594.35,12],[2594.5,10.8],[2594.65,11.3],[2594.8,10.2],[2594.95,10.6],[2595.1,9.6],[2595.25,10],[2595.4,9],[2595.55,9.5],[2595.7,8.6],[2595.85,9],[2596,8.2],[2596.05,-12],[2596.5,-15.5],[2596.8,-16.2],[2597.1,-19.5],[2597.4,-20.1],[2597.7,-23],[2598,-23.7],[2598.3,-26.5],[2598.9,-29.5],[2599.4,-32],[2599.8,-34.5],
[2599.89,-2.1],[2600.15,-2.1],[2600.2,-35],
[2600.5,-36],[2600.9,-35.5],[2601.3,-37],[2601.7,-36.5],[2602.1,-38],[2602.5,-37.5],[2602.9,-39],[2603.3,-38.5],[2603.7,-39.5],[2603.95,-37.5],[2604.05,-18],[2604.4,-17],[2604.7,-16.5],[2605,-15.5],[2605.3,-15],[2605.6,-14],[2605.9,-13.5],[2606.2,-12.5],[2606.5,-11],[2606.7,-8.5],[2606.85,-10],[2606.95,-20],[2607.05,-29],
[2607.35,-36],[2607.75,-41],[2608.15,-45],[2608.55,-47.5],[2608.95,-49],[2609.35,-48.5],[2609.75,-50],[2610.15,-49],[2610.55,-50.5],[2610.95,-49.5],[2611.35,-51],[2611.75,-50],[2612.15,-51],[2612.55,-50.5],[2612.95,-51.5],[2613.35,-51],
[2613.75,-54.5],[2614.15,-57],[2614.55,-58.5],[2614.95,-59.5],[2615.35,-59],[2615.75,-60.5],[2616.15,-60],[2616.55,-61],[2616.95,-60.5],[2617.35,-61.5],[2617.75,-61],[2618.15,-62],[2618.55,-61],[2618.95,-62],[2619.35,-61.5],[2619.75,-62.5],
[2620.15,-63.5],[2620.55,-66],[2620.95,-68],[2621.35,-69],[2621.75,-68.5],[2622.15,-70],[2622.55,-69.5],[2622.65,-63],[2622.75,-70],[2623.15,-71],[2623.55,-70.5],[2623.95,-72],[2624.35,-71.5],[2624.75,-72.5],[2625.15,-72],[2625.55,-73.5],[2625.95,-73],[2626.35,-74],[2626.75,-73.5],
[2627.15,-75],[2627.55,-76],[2627.95,-76.5],[2628.35,-78],[2628.75,-77.5],[2629.15,-79],[2629.55,-78.5],[2630,-80]];

const RED_TRACES = [RED_0, RED_1, RED_2, RED_3, RED_4, RED_5, RED_6, RED_7];
const BLACK_TRACES = [BLK_0, BLK_1, BLK_2, BLK_3, BLK_4, BLK_5, BLK_6, BLK_7];

// limit lines: label, level (dBm), start / end frequency (MHz)
const LIMIT_LABELS = ["-22.5dBm/MHz", "-32.5dBm/100kHz"];
const LIMIT_LEVELS = [-22.5, -32.5];
const LIMIT_SPANS: P[] = [[2562.5, 2587.5], [2562.5, 2587.3]];
const LIMIT_LABEL_AT = [2564.45, 2564.6];
const ANNOTATION_TEXT = "RB: 1-->15";
const ANNOTATION_AT: P = [2600.7, 1.4];

export default function App() {
  const W = 1078, H = 763;
  const L = 82, R = 1046, T = 44, B = 695;
  const x = d3.scaleLinear().domain([2.56e9, 2.63e9]).range([L, R]);
  const y = d3.scaleLinear().domain([-90, 30]).range([B, T]);
  const line = d3.line<P>().x(d => x(d[0] * 1e6)).y(d => y(d[1]));
  const xMinor = x.ticks(70);
  const yMinor = y.ticks(60);
  const font = "Arial, 'Liberation Sans', sans-serif";
  const limitColors = ["#ff0000", "#000000"];
  const limitTextColors = ["#ff2020", "#222222"];
  const limitTextOffsets = [20.5, 12.8];
  return (
    <div>
      <style>{`body{margin:0;background:#fff}`}</style>
      <svg width={W} height={H} style={{ display: "block" }} fontFamily={font}>
        <defs>
          <clipPath id="plotclip">
            <rect x={L} y={T} width={R - L} height={B - T} />
          </clipPath>
        </defs>
        <rect x={0} y={0} width={W} height={H} fill="#fff" />
        {X_TICKS_MHZ.slice(1, -1).map(f => (
          <line key={"gx" + f} x1={x(f * 1e6)} x2={x(f * 1e6)} y1={T} y2={B} stroke="#cfcfcf" strokeWidth={1.4} />
        ))}
        {Y_TICKS.slice(1, -1).map(v => (
          <line key={"gy" + v} x1={L} x2={R} y1={y(v)} y2={y(v)} stroke="#cfcfcf" strokeWidth={1.4} />
        ))}
        <g clipPath="url(#plotclip)" fill="none" strokeLinejoin="round">
          {RED_TRACES.map((d, i) => (
            <path key={"r" + i} d={line(d) || ""} stroke="#ff0000" strokeWidth={1.1} />
          ))}
          {BLACK_TRACES.map((d, i) => (
            <path key={"b" + i} d={line(d) || ""} stroke="#000000" strokeWidth={1.1} />
          ))}
        </g>
        {LIMIT_LEVELS.map((v, i) => (
          <g key={"lim" + i}>
            <line x1={x(LIMIT_SPANS[i][0] * 1e6)} x2={x(LIMIT_SPANS[i][1] * 1e6)} y1={y(v)} y2={y(v)} stroke={limitColors[i]} strokeWidth={1.2} />
            <text x={x(LIMIT_LABEL_AT[i] * 1e6)} y={y(v) - limitTextOffsets[i]} fontSize={18} letterSpacing={1.5} fill={limitTextColors[i]}>
              {LIMIT_LABELS[i]}
            </text>
          </g>
        ))}
        <text x={x(ANNOTATION_AT[0] * 1e6)} y={y(ANNOTATION_AT[1])} fontSize={18} letterSpacing={1.5} fill="#222">{ANNOTATION_TEXT}</text>
        <line x1={L} x2={R} y1={T} y2={T} stroke="#000" strokeWidth={1.5} />
        <line x1={R} x2={R} y1={T} y2={B} stroke="#555" strokeWidth={1.5} />
        <line x1={L} x2={L} y1={T} y2={B} stroke="#000" strokeWidth={1.5} />
        <line x1={L} x2={R} y1={B} y2={B} stroke="#000" strokeWidth={1.5} />
        {yMinor.map(v => (
          <line key={"ym" + v} x1={L - (v % 10 === 0 ? 12 : 8)} x2={L} y1={y(v)} y2={y(v)} stroke="#000" strokeWidth={1.2} />
        ))}
        {Y_TICKS.map(v => (
          <text key={"yl" + v} x={L - 15} y={y(v)} dy="0.35em" textAnchor="end" fontSize={17} fill="#333">{v}</text>
        ))}
        {xMinor.map(f => {
          const major = Math.round(f / 1e6) % 10 === 0;
          return <line key={"xm" + f} x1={x(f)} x2={x(f)} y1={B} y2={B + (major ? 12 : 6)} stroke="#000" strokeWidth={1.2} />;
        })}
        {X_TICKS_MHZ.map((f, i) => (
          <text key={"xl" + f} x={x(f * 1e6)} y={724} textAnchor="middle" fontSize={17} fill="#333">{X_TICK_LABELS[i]}</text>
        ))}
        <text x={(L + R) / 2} y={26} textAnchor="middle" fontSize={17} fill="#333">QPSK: 15MHz</text>
        <text x={(L + R) / 2} y={756} textAnchor="middle" fontSize={16} fill="#333">Freq</text>
        <text transform={`translate(31,${(T + B) / 2}) rotate(-90)`} textAnchor="middle" fontSize={17} letterSpacing={1.3} fill="#333">
          PSD (dBm/Measurement Bandwidth)
        </text>
      </svg>
    </div>
  );
}
